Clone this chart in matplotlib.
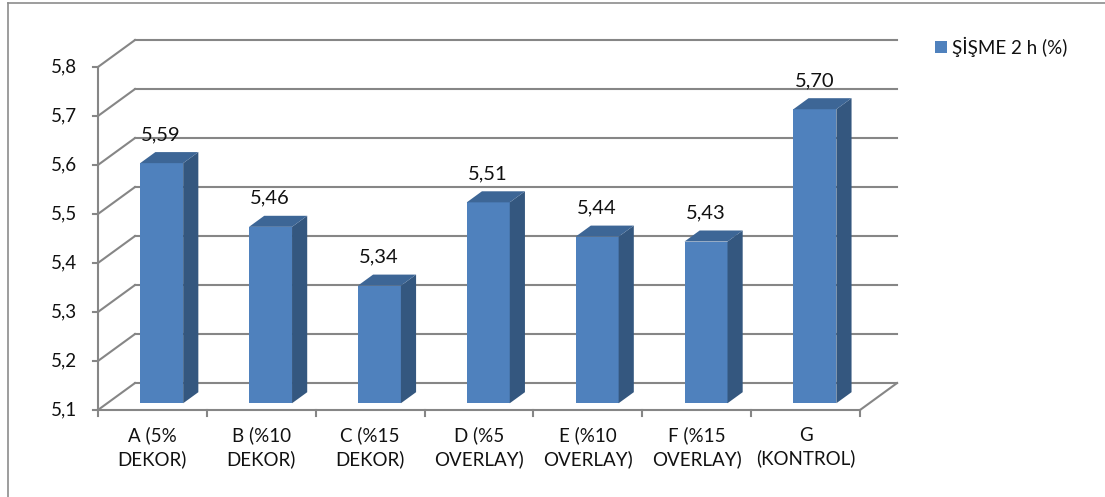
import matplotlib.pyplot as plt
from matplotlib.patches import Polygon
from matplotlib.lines import Line2D

plt.rcParams['font.family'] = ['Lato', 'DejaVu Sans']

# data
categories = ["A (5%\nDEKOR)", "B (%10\nDEKOR)", "C (%15\nDEKOR)", "D (%5\nOVERLAY)",
              "E (%10\nOVERLAY)", "F (%15\nOVERLAY)", "G\n(KONTROL)"]
values = [5.59, 5.46, 5.34, 5.51, 5.44, 5.43, 5.70]
yticks = [5.1, 5.2, 5.3, 5.4, 5.5, 5.6, 5.7, 5.8]
series_name = "ŞİŞME 2 h (%)"

# 3d look: oblique offset of the back wall (in data units)
DX, DY = 0.34, 0.055
F0, F1 = 0.25, 0.66          # front / back of the bars as fraction of depth
BW = 0.395                   # bar width
YMIN = 5.1
grid_c = '#868686'
txt_c = '#111111'
front_c, side_c, top_c = '#4F81BD', '#34577F', '#3D6696'

fig = plt.figure(figsize=(11.05, 4.97), dpi=100)
ax = fig.add_axes([0, 0, 1, 1])
ax.set_xlim(-1.400, 8.750)
ax.set_ylim(4.9224, 5.9367)
ax.axis('off')

n = len(categories)
x0, x1 = -0.5, n - 0.5

# back wall + side wall gridlines
for v in yticks:
    ax.plot([x0 + DX, x1 + DX], [v + DY, v + DY], color=grid_c, lw=1.5, zorder=1)
    ax.plot([x0, x0 + DX], [v, v + DY], color=grid_c, lw=1.5, zorder=1)
    ax.plot([x0 - 0.046, x0], [v, v], color=grid_c, lw=1.5, zorder=1)
    ax.text(x0 - 0.19, v, f"{v:.1f}".replace('.', ','), ha='right', va='center',
            fontsize=13.5, color=txt_c)

# floor edges and axes
ax.plot([x0, x1], [YMIN, YMIN], color=grid_c, lw=1.5, zorder=1)
ax.plot([x1, x1 + DX], [YMIN, YMIN + DY], color=grid_c, lw=1.5, zorder=1)
ax.plot([x0, x0], [YMIN, yticks[-1]], color=grid_c, lw=1.5, zorder=1)
for i in range(n + 1):
    ax.plot([x0 + i, x0 + i], [YMIN, YMIN - 0.012], color=grid_c, lw=1.5, zorder=1)

# bars: front, side and top faces
for i, (cat, v) in enumerate(zip(categories, values)):
    fx = i - BW / 2 + F0 * DX
    fy = YMIN + F0 * DY
    top = v + F0 * DY
    ddx, ddy = (F1 - F0) * DX, (F1 - F0) * DY
    front = Polygon([(fx, fy), (fx + BW, fy), (fx + BW, top), (fx, top)],
                    closed=True, fc=front_c, ec='none', zorder=3)
    side = Polygon([(fx + BW, fy), (fx + BW + ddx, fy + ddy), (fx + BW + ddx, top + ddy),
                    (fx + BW, top)], closed=True, fc=side_c, ec='none', zorder=3)
    topf = Polygon([(fx, top), (fx + BW, top), (fx + BW + ddx, top + ddy), (fx + ddx, top + ddy)],
                   closed=True, fc=top_c, ec='none', zorder=3)
    for p in (front, side, topf):
        ax.add_patch(p)
    ax.text(i + 0.08, v + F1 * DY + 0.036, f"{v:.2f}".replace('.', ','),
            ha='center', va='center', fontsize=14.5, color=txt_c, zorder=4)
    ax.text(i, YMIN - 0.034, cat, ha='center', va='top', fontsize=13.5,
            color=txt_c, linespacing=1.35)

# legend
ax.add_patch(Polygon([(7.189, 5.8286), (7.299, 5.8286), (7.299, 5.853), (7.189, 5.853)],
                     closed=True, fc=front_c, ec='none'))
ax.text(7.345, 5.8408, series_name, ha='left', va='center', fontsize=13.5, color=txt_c)

# chart frame
fig.add_artist(Line2D([8 / 1105, 8 / 1105], [0, 1 - 3 / 497], transform=fig.transFigure,
                      color='#8c8c8c', lw=1.2))
fig.add_artist(Line2D([8 / 1105, 1], [1 - 3 / 497, 1 - 3 / 497], transform=fig.transFigure,
                      color='#8c8c8c', lw=1.2))

fig.savefig('out.png', dpi=100)
